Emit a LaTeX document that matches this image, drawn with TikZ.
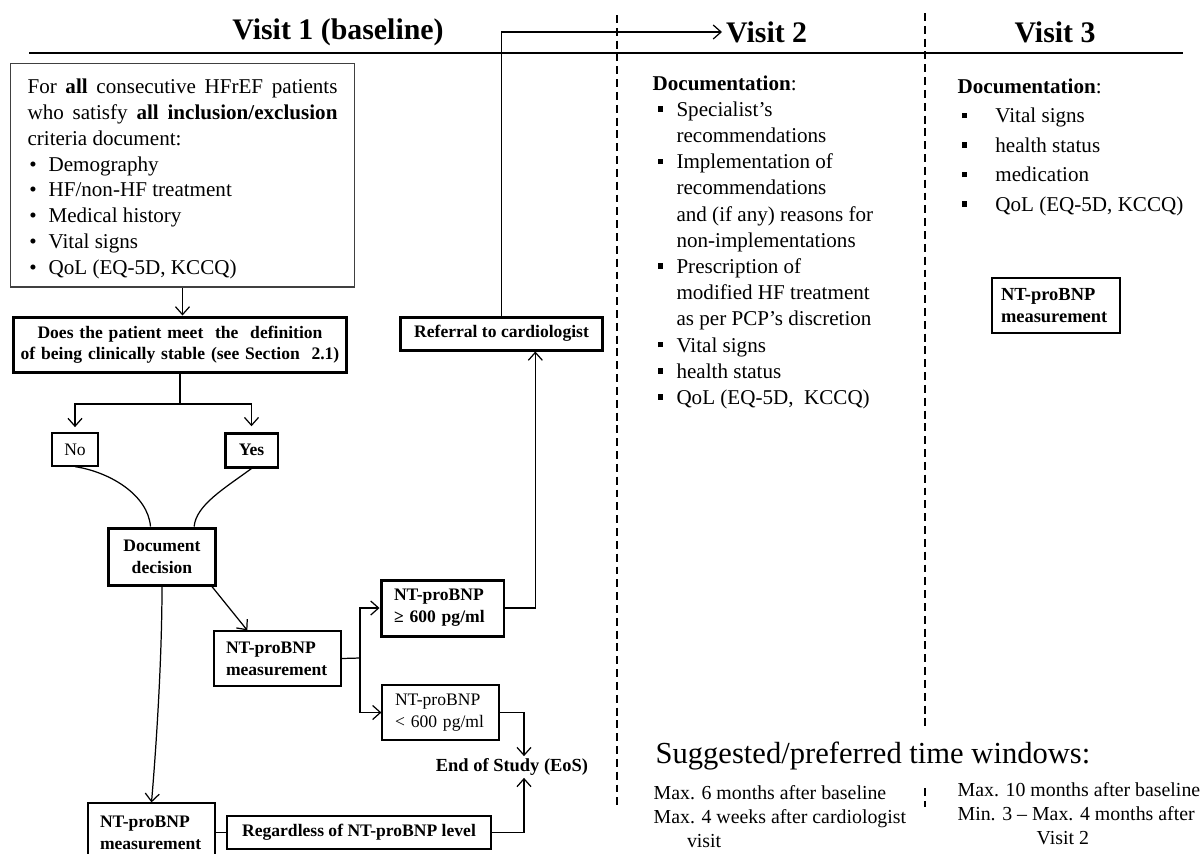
\documentclass[tikz,border=0pt]{standalone}
\usepackage{fontspec}
\setmainfont{Liberation Serif}
\usetikzlibrary{arrows.meta}

\newcommand{\sqbul}{\rule[0.22em]{3.2pt}{3.2pt}}
\newcommand{\dotitem}{\noindent\hspace*{1pt}\makebox[11pt][l]{•}}
\newcommand{\vtwoitem}{\hspace*{2.8pt}\makebox[10.8pt][l]{\sqbul}}
\newcommand{\vtwogap}{\hspace*{13.6pt}}
\newcommand{\vthreeitem}{\hspace*{2.3pt}\makebox[19.2pt][l]{\sqbul}}

\begin{document}
\begin{tikzpicture}[x=0.02cm,y=-0.02cm,>={Straight Barb[length=4.5pt,width=8pt]},line width=0.7pt]
    \tikzstyle{box}=[draw,inner sep=0pt,minimum height=1.1cm,font=\fontsize{10}{12.5}\selectfont\bfseries]
    \tikzstyle{thickbox}=[box,line width=1.7pt]
    \tikzstyle{visit}=[inner sep=2pt,font=\fontsize{17}{20}\selectfont\bfseries]
    \tikzstyle{divider}=[line width=0.9pt,dash pattern=on 4.5pt off 2.8pt]
    \tikzstyle{plain}=[inner sep=0pt,align=left]
    \useasboundingbox (0,0) rectangle (1202,853);

    % headings and dividers
    \node[visit] (v1) at (338,32) {Visit 1 (baseline)};
    \node[visit,anchor=west] (v2) at (722,32) {Visit 2};
    \node[visit] (v3) at (1055,32) {Visit 3};
    \draw (29,53) -- (1183,53);
    \draw[divider] (617,15) -- (617,810);
    \draw[divider] (925,13) -- (925,731);
    \draw[divider] (925,788) -- (925,807);

    % visit 1
    \node[draw=black!75,line width=0.6pt,inner sep=0pt,minimum width=6.9cm,minimum height=4.48cm] (infobox) at (182.5,175) {};
    \node[text width=6.2cm,align=justify,inner sep=0pt,font=\fontsize{12}{14.7}\selectfont] (info) at (182.5,179)
        {For \textbf{all} consecutive HFrEF patients\linebreak who satisfy \textbf{all inclusion/exclusion}\linebreak criteria document:\par
        \dotitem Demography\par
        \dotitem HF/non-HF treatment\par
        \dotitem Medical history\par
        \dotitem Vital signs\par
        \dotitem QoL (EQ-5D, KCCQ)};
    \node[thickbox,minimum width=6.68cm,text width=6.6cm,align=center,font=\fontsize{10}{12}\selectfont\bfseries] (stable) at (180,344.5)
        {Does the patient meet\ \ the\ \ definition\\of being clinically stable (see Section\ \ 2.1)};
    \node[box,font=\fontsize{10}{12}\selectfont,minimum width=0.92cm,minimum height=0.66cm] (no) at (75,449.5) {No};
    \node[thickbox,minimum width=1.06cm,minimum height=0.68cm] (yes) at (251.5,450) {Yes};
    \node[thickbox,minimum width=2.16cm,minimum height=1.14cm,align=center] (docdec) at (162,556.5) {Document\\decision};
    \node[box,minimum width=2.54cm,text width=2.06cm,align=left] (ntmid) at (277.5,658.5) {NT-proBNP\\measurement};
    \node[thickbox,minimum width=2.46cm,text width=1.94cm,align=left,minimum height=1.12cm] (high) at (442.5,608) {NT-proBNP\\≥ 600 pg/ml};
    \node[box,font=\fontsize{10}{12.5}\selectfont,minimum width=2.34cm,text width=1.82cm,align=left] (low) at (440.5,712.5) {NT-proBNP\\< 600 pg/ml};
    \node[thickbox,minimum width=4.06cm,minimum height=0.66cm] (referral) at (501.5,333.5) {Referral to cardiologist};
    \node[inner sep=1pt,font=\fontsize{10.5}{12}\selectfont\bfseries] (eos) at (512,767) {End of Study (EoS)};
    \node[box,minimum width=2.54cm,text width=2.06cm,align=left,minimum height=1.2cm] (ntbot) at (151.5,833) {NT-proBNP\\measurement};
    \node[box,minimum width=5.28cm,minimum height=0.66cm] (regard) at (359,832.5) {Regardless of NT-proBNP level};

    % visit 2
    \node[plain,anchor=north west,font=\fontsize{12}{14.9}\selectfont] (doc2) at (652,75)
        {\textbf{Documentation}:\\
        \vtwoitem Specialist’s\\
        \vtwogap recommendations\\
        \vtwoitem Implementation of\\
        \vtwogap recommendations\\
        \vtwogap and (if any) reasons for\\
        \vtwogap non-implementations\\
        \vtwoitem Prescription of\\
        \vtwogap modified HF treatment\\
        \vtwogap as per PCP’s discretion\\
        \vtwoitem Vital signs\\
        \vtwoitem health status\\
        \vtwoitem QoL (EQ-5D,~~KCCQ)};

    % visit 3
    \node[plain,anchor=north west,font=\fontsize{12}{16.8}\selectfont] (doc3) at (957,78)
        {\textbf{Documentation}:\\
        \vthreeitem Vital signs\\
        \vthreeitem health status\\
        \vthreeitem medication\\
        \vthreeitem QoL (EQ-5D, KCCQ)};
    \node[box,font=\fontsize{10.5}{12.5}\selectfont\bfseries,minimum width=2.56cm,text width=2.2cm,align=left] (v3nt) at (1056,305.5) {NT-proBNP\\measurement};

    % time windows
    \node[inner sep=0pt,anchor=west,font=\fontsize{17.4}{20}\selectfont] (windows) at (655,756) {Suggested/preferred time windows:};
    \node[plain,anchor=north west,font=\fontsize{11.3}{13.6}\selectfont] (win2) at (653,785)
        {Max. 6 months after baseline\\Max. 4 weeks after cardiologist\\\hspace*{19pt}visit};
    \node[plain,anchor=north west,font=\fontsize{11.3}{13.6}\selectfont] (win3) at (957,782)
        {Max. 10 months after baseline\\Min. 3 – Max. 4 months after\\\hspace*{45pt}Visit 2};

    % connectors
    \draw[->] (infobox.south) -- (infobox.south |- stable.north);
    \coordinate (split) at (180,404);
    \draw (stable.south) -- (split);
    \draw[->,shorten >=3pt] (split) -| (no.north);
    \draw[->,shorten >=3pt] (split) -| (yes.north);
    \draw (no.south) .. controls (110,472) and (148,495) .. (docdec.111);
    \draw (yes.south) .. controls (225,488) and (196,505) .. (docdec.43);
    \draw[->] (docdec.-31) -- (ntmid.137);
    \draw[->] (docdec.south) .. controls (162,660) and (156,750) .. (ntbot.north);
    \coordinate (fork) at (360,658);
    \draw (ntmid.east) -- (fork);
    \draw[->] (fork) |- (high.west);
    \draw[->] (fork) |- (low.west);
    \draw[->] (high.east) -| (referral.-28);
    \draw[->] (referral.north) |- (v2.west);
    \draw[->] (low.east) -| ([xshift=0.24cm]eos.north);
    \draw (ntbot.east |- regard.west) -- (regard.west);
    \draw[->] (regard.east) -| ([xshift=0.24cm]eos.south);
\end{tikzpicture}
\end{document}
